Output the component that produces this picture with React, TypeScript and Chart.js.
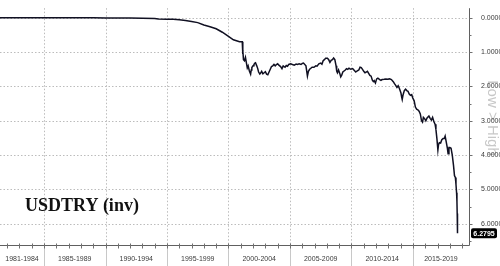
import React, { useEffect, useRef } from "react";
import { Chart, registerables } from "chart.js";

Chart.register(...registerables);

const years: number[] = [
  1981.4, 1983, 1985, 1987, 1989, 1990, 1991, 1992, 1993, 1994, 1994.3, 1995, 1995.5, 1996, 1996.5,
  1997, 1997.5, 1998, 1998.5, 1999, 1999.5, 2000, 2000.4, 2000.9, 2001.12,
  2001.15, 2001.18, 2001.22, 2001.3, 2001.38, 2001.45, 2001.53, 2001.6, 2001.7, 2001.8, 2001.85, 2001.9,
  2002.0, 2002.07, 2002.15, 2002.2, 2002.3, 2002.38, 2002.45, 2002.55, 2002.6, 2002.7, 2002.8, 2002.9,
  2003.0, 2003.1, 2003.2, 2003.3, 2003.4, 2003.5, 2003.6, 2003.7, 2003.8, 2003.9,
  2004.0, 2004.1, 2004.24, 2004.35, 2004.45, 2004.6, 2004.7, 2004.8, 2004.9,
  2005.06, 2005.2, 2005.35, 2005.5, 2005.6, 2005.75, 2005.9,
  2006.0, 2006.1, 2006.3, 2006.38, 2006.42, 2006.5, 2006.6, 2006.7, 2006.8, 2006.95,
  2007.1, 2007.2, 2007.35, 2007.5, 2007.6, 2007.7, 2007.8, 2007.9,
  2008.05, 2008.15, 2008.25, 2008.35, 2008.45, 2008.55, 2008.65, 2008.75, 2008.8, 2008.86, 2008.95,
  2009.05, 2009.13, 2009.2, 2009.3, 2009.4, 2009.5, 2009.6, 2009.7, 2009.8, 2009.95,
  2010.1, 2010.2, 2010.35, 2010.45, 2010.6, 2010.7, 2010.8, 2010.9,
  2011.0, 2011.1, 2011.2, 2011.3, 2011.4, 2011.5, 2011.6, 2011.7, 2011.78, 2011.85, 2011.95,
  2012.05, 2012.15, 2012.3, 2012.4, 2012.5, 2012.66, 2012.8, 2012.94,
  2013.1, 2013.25, 2013.4, 2013.5, 2013.6, 2013.7, 2013.8, 2013.9,
  2014.02, 2014.08, 2014.13, 2014.2, 2014.3, 2014.4, 2014.5, 2014.6, 2014.7, 2014.8, 2014.9, 2014.98,
  2015.1, 2015.2, 2015.3, 2015.4, 2015.5, 2015.6, 2015.7, 2015.78, 2015.85, 2015.95,
  2016.05, 2016.15, 2016.3, 2016.4, 2016.5, 2016.6, 2016.7, 2016.8, 2016.87, 2016.95,
  2017.03, 2017.08, 2017.15, 2017.25, 2017.35, 2017.45, 2017.55, 2017.62, 2017.7, 2017.8, 2017.86, 2017.93,
  2018.0, 2018.1, 2018.2, 2018.3, 2018.38, 2018.45, 2018.5, 2018.55, 2018.58, 2018.6, 2018.62, 2018.63,
];

const usdtry: number[] = [
  0.0001, 0.0002, 0.0005, 0.0008, 0.0018, 0.0026, 0.004, 0.007, 0.011, 0.02, 0.035, 0.04, 0.045, 0.06, 0.08,
  0.108, 0.14, 0.21, 0.26, 0.32, 0.42, 0.54, 0.64, 0.7, 0.7,
  1.05, 0.95, 1.22, 1.25, 1.15, 1.3, 1.46, 1.4, 1.55, 1.64, 1.52, 1.45,
  1.4, 1.36, 1.32, 1.31, 1.4, 1.48, 1.58, 1.64, 1.62, 1.56, 1.63, 1.6,
  1.57, 1.64, 1.66, 1.58, 1.5, 1.42, 1.4, 1.36, 1.4, 1.36,
  1.34, 1.38, 1.42, 1.48, 1.4, 1.44, 1.39, 1.41, 1.36,
  1.34, 1.36, 1.38, 1.35, 1.36, 1.34, 1.36,
  1.33, 1.32, 1.4, 1.6, 1.7, 1.56, 1.5, 1.47, 1.44, 1.44,
  1.4, 1.41, 1.34, 1.32, 1.35, 1.25, 1.22, 1.18,
  1.18, 1.22, 1.3, 1.24, 1.22, 1.17, 1.22, 1.4, 1.55, 1.6, 1.52,
  1.62, 1.72, 1.68, 1.58, 1.55, 1.52, 1.48, 1.5, 1.47, 1.5,
  1.48, 1.52, 1.58, 1.55, 1.52, 1.44, 1.45, 1.5,
  1.56, 1.6, 1.58, 1.56, 1.62, 1.68, 1.7, 1.82, 1.86, 1.83, 1.9,
  1.78, 1.76, 1.8, 1.82, 1.8, 1.79, 1.78, 1.79,
  1.78, 1.8, 1.86, 1.92, 1.97, 2.03, 1.98, 2.06,
  2.18, 2.3, 2.38, 2.24, 2.12, 2.08, 2.12, 2.14, 2.22, 2.26, 2.24, 2.33,
  2.42, 2.6, 2.66, 2.68, 2.72, 2.8, 3.0, 3.04, 2.9, 2.94,
  3.0, 2.92, 2.86, 2.93, 2.98, 2.9, 3.02, 3.1, 3.25, 3.52,
  3.85, 3.7, 3.64, 3.65, 3.55, 3.52, 3.52, 3.45, 3.6, 3.8, 3.96, 3.78,
  3.78, 3.8, 4.0, 4.3, 4.6, 4.65, 4.85, 5.1, 5.35, 5.7, 6.1, 6.2795,
];

const yTicks: number[] = [0, 1, 2, 3, 4, 5, 6];
const periodStarts: number[] = [1981, 1985, 1990, 1995, 2000, 2005, 2010, 2015];
const periodLabels: string[] = [
  "1981-1984", "1985-1989", "1990-1994", "1995-1999", "2000-2004", "2005-2009", "2010-2014", "2015-2019",
];
const xMin = 1981.42;
const xMax = 2019.56;
const yMin = -0.28;
const yMax = 6.62;
const lastValue = 6.2795;
const titleText = "USDTRY (inv)";
const sideText = "Low > High";

export default function App() {
  const ref = useRef<HTMLCanvasElement | null>(null);

  useEffect(() => {
    document.body.style.margin = "0";
    const canvas = ref.current;
    if (!canvas) return;

    const decor = {
      id: "decor",
      beforeDraw(chart: any) {
        const { ctx } = chart;
        ctx.save();
        ctx.translate(492, 118);
        ctx.rotate(Math.PI / 2);
        ctx.fillStyle = "#c8c8c8";
        ctx.font = "15px 'Liberation Sans', Arial, sans-serif";
        ctx.textAlign = "center";
        ctx.textBaseline = "middle";
        ctx.fillText(sideText, 0, 0);
        ctx.restore();
      },
      beforeDatasetsDraw(chart: any) {
        const { ctx, chartArea } = chart;
        const xs = chart.scales.x;
        const ys = chart.scales.y;
        ctx.save();
        ctx.strokeStyle = "#bcbcbc";
        ctx.lineWidth = 1;
        ctx.setLineDash([1.5, 2]);
        for (const v of yTicks) {
          const y = Math.round(ys.getPixelForValue(v)) + 0.5;
          ctx.beginPath();
          ctx.moveTo(chartArea.left, y);
          ctx.lineTo(chartArea.right, y);
          ctx.stroke();
        }
        for (let i = 1; i < periodStarts.length; i++) {
          const x = Math.round(xs.getPixelForValue(periodStarts[i])) + 0.5;
          ctx.beginPath();
          ctx.moveTo(x, chartArea.top);
          ctx.lineTo(x, chartArea.bottom);
          ctx.stroke();
        }
        ctx.setLineDash([]);
        ctx.fillStyle = "#111";
        ctx.font = "bold 18px 'Liberation Serif', serif";
        ctx.textAlign = "left";
        ctx.textBaseline = "alphabetic";
        ctx.fillText(titleText, 25, 211);
        ctx.restore();
      },
      afterDraw(chart: any) {
        const { ctx, chartArea } = chart;
        const xs = chart.scales.x;
        const ys = chart.scales.y;
        const H = chart.height;
        ctx.save();
        const axY = Math.round(chartArea.bottom) + 0.5;
        const axX = Math.round(chartArea.right) + 0.5;
        ctx.strokeStyle = "#c8c8c8";
        ctx.lineWidth = 1;
        for (let i = 1; i < periodStarts.length; i++) {
          const x = Math.round(xs.getPixelForValue(periodStarts[i])) + 0.5;
          ctx.beginPath();
          ctx.moveTo(x, axY);
          ctx.lineTo(x, H);
          ctx.stroke();
        }
        ctx.strokeStyle = "#606060";
        ctx.beginPath();
        ctx.moveTo(chartArea.left, axY);
        ctx.lineTo(axX, axY);
        ctx.moveTo(axX, chartArea.top);
        ctx.lineTo(axX, axY);
        ctx.stroke();
        ctx.strokeStyle = "#707070";
        for (let yr = Math.ceil(xMin); yr <= Math.floor(xMax); yr++) {
          const x = Math.round(xs.getPixelForValue(yr)) + 0.5;
          ctx.beginPath();
          ctx.moveTo(x, axY - 2);
          ctx.lineTo(x, axY + 3);
          ctx.stroke();
        }
        for (let v = 0; v <= 6.5; v += 0.5) {
          const y = Math.round(ys.getPixelForValue(v)) + 0.5;
          const len = Number.isInteger(v) ? 3 : 2;
          ctx.beginPath();
          ctx.moveTo(axX, y);
          ctx.lineTo(axX + len, y);
          ctx.stroke();
        }
        ctx.fillStyle = "#3a3a3a";
        ctx.font = "7px 'Liberation Sans', Arial, sans-serif";
        ctx.textAlign = "center";
        ctx.textBaseline = "middle";
        for (let i = 0; i < periodStarts.length; i++) {
          const a = Math.max(periodStarts[i], xMin);
          const b = Math.min(i + 1 < periodStarts.length ? periodStarts[i + 1] : 2020, xMax);
          const cx = (xs.getPixelForValue(a) + xs.getPixelForValue(b)) / 2;
          ctx.fillText(periodLabels[i], cx, 259);
        }
        const ly = ys.getPixelForValue(lastValue);
        ctx.fillStyle = "#000";
        const bx = axX + 1.5;
        const bw = 26;
        const bh = 10;
        ctx.beginPath();
        ctx.roundRect(bx, ly - bh / 2, bw, bh, 2);
        ctx.fill();
        ctx.fillStyle = "#fff";
        ctx.font = "bold 7px 'Liberation Sans', Arial, sans-serif";
        ctx.textAlign = "center";
        ctx.textBaseline = "middle";
        ctx.fillText(lastValue.toFixed(4), bx + bw / 2, ly + 0.5);
        ctx.restore();
      },
    };

    const chart = new Chart(canvas, {
      type: "line",
      data: {
        datasets: [
          {
            data: years.map((x, i) => ({ x, y: usdtry[i] })),
            borderColor: "#101022",
            borderWidth: 1.5,
            pointRadius: 0,
            tension: 0,
            fill: false,
          },
        ],
      },
      options: {
        responsive: false,
        animation: false,
        events: [],
        layout: { padding: 0 },
        plugins: { legend: { display: false }, tooltip: { enabled: false }, title: { display: false } },
        scales: {
          x: {
            type: "linear",
            min: xMin,
            max: xMax,
            grid: { display: false },
            border: { display: false },
            ticks: { display: false },
            afterFit: (s: any) => {
              s.height = 21;
            },
          },
          y: {
            position: "right",
            reverse: true,
            min: yMin,
            max: yMax,
            grid: { display: false },
            border: { display: false },
            afterBuildTicks: (s: any) => {
              s.ticks = yTicks.map((v) => ({ value: v }));
            },
            ticks: {
              padding: 4,
              color: "#3a3a3a",
              font: { size: 7, family: "'Liberation Sans', Arial, sans-serif" },
              callback: (v: any) => Number(v).toFixed(4),
            },
            afterFit: (s: any) => {
              s.width = 31;
            },
          },
        },
      },
      plugins: [decor],
    });
    return () => chart.destroy();
  }, []);

  return <canvas ref={ref} width={500} height={266} style={{ display: "block" }} />;
}
